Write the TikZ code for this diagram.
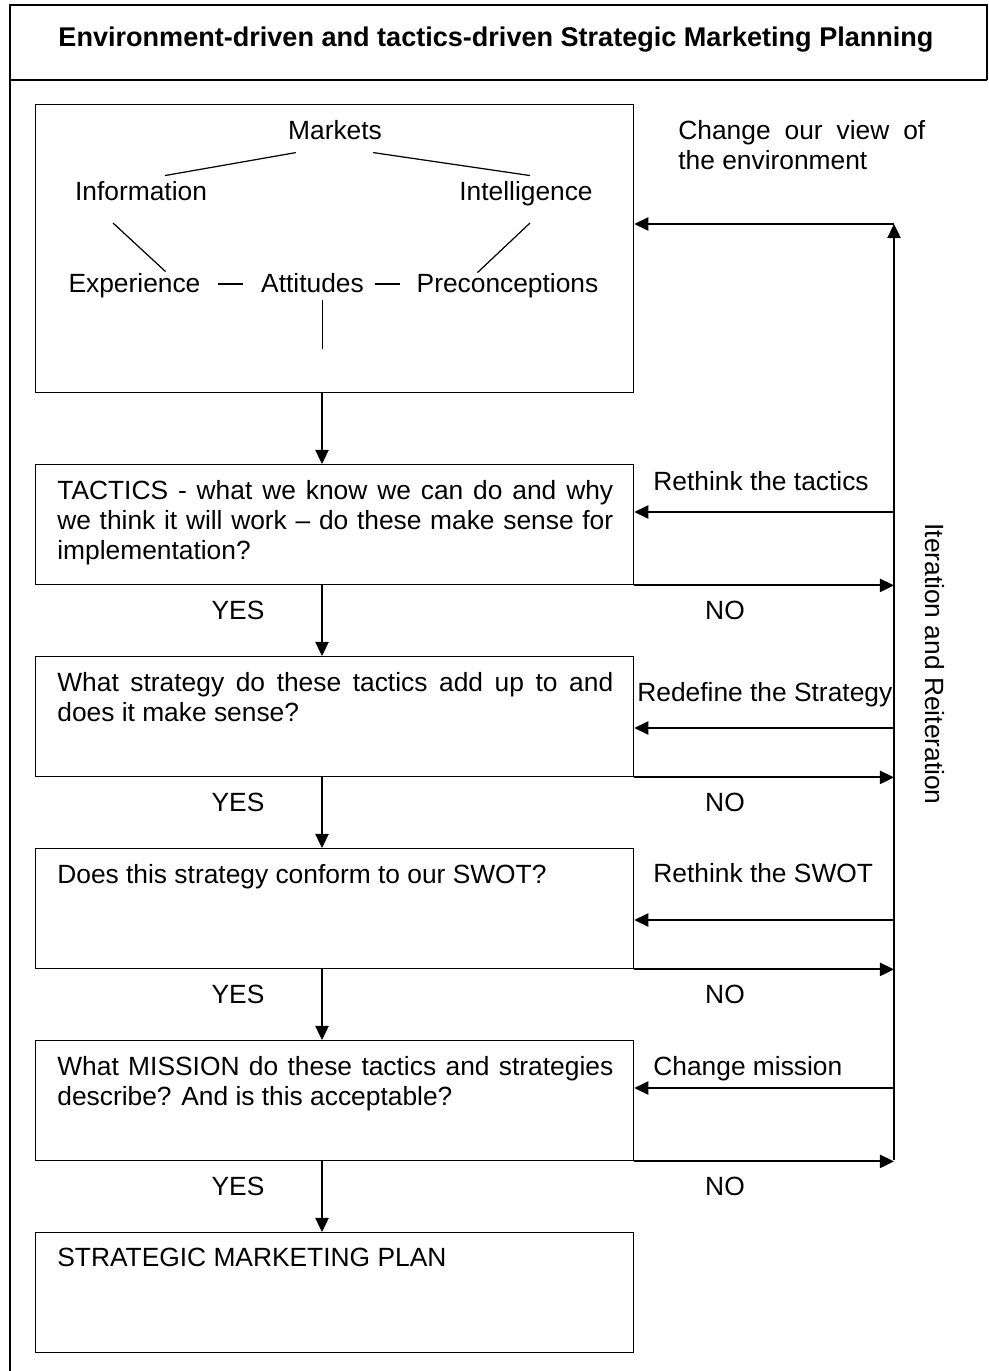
\documentclass[tikz,border=0pt]{standalone}
\usepackage{fontspec}
\setmainfont{Liberation Sans}
\usetikzlibrary{arrows.meta,calc}

\begin{document}
\hyphenpenalty=10000 \exhyphenpenalty=10000
\begin{tikzpicture}[x=0.02cm,y=-0.02cm,font=\fontsize{15}{17}\selectfont,
    box/.style={draw,line width=0.8pt,anchor=north west,minimum width=11.96cm,minimum height=2.4cm,inner sep=0pt},
    txt/.style={anchor=north west,inner sep=0pt,text width=11.12cm,align=justify},
    word/.style={anchor=base,inner sep=0pt},
    lbl/.style={anchor=base west,inner sep=0pt},
    flow/.style={line width=1.1pt,-{Triangle[length=8pt,width=7.5pt]}},
    link/.style={line width=0.7pt}]
\useasboundingbox (0,0) rectangle (989,1371);
% Frame and heading
\draw[line width=0.9pt] (10,1380) -- (10,5) -- (987,5) -- (987,80);
\draw[line width=0.9pt] (10,80) -- (987,80);
\node[word,font=\fontsize{15.4}{18}\selectfont\bfseries] (title) at (496,47) {Environment-driven and tactics-driven Strategic Marketing Planning};
% Boxes
\node[box,minimum height=5.76cm] (b1) at (35,104) {};
\node[box] (b2) at (35,464) {};
\node[box] (b3) at (35,656) {};
\node[box] (b4) at (35,848) {};
\node[box] (b5) at (35,1040) {};
\node[box] (b6) at (35,1232) {};
% Box texts
\node[txt] (t2) at ($(b2.north west)+(22,16)$) {TACTICS - what we know we can do and why\linebreak we think it will work -- do these make sense for\linebreak implementation?};
\node[txt] (t3) at ($(b3.north west)+(22,16)$) {What strategy do these tactics add up to and\linebreak does it make sense?};
\node[txt] (t4) at ($(b4.north west)+(22,16)$) {Does this strategy conform to our SWOT?};
\node[txt] (t5) at ($(b5.north west)+(22,16)$) {What MISSION do these tactics and strategies\linebreak describe? And is this acceptable?};
\node[txt] (t6) at ($(b6.north west)+(22,16)$) {STRATEGIC MARKETING PLAN};
% Environment words
\node[word] (mk) at (335,140) {Markets};
\node[word] (inf) at (141,201) {Information};
\node[word] (int) at (526,201) {Intelligence};
\node[word] (exp) at (134.5,293) {Experience};
\node[word] (att) at (312.5,293) {Attitudes};
\node[word] (pre) at (507.5,293) {Preconceptions};
\draw[link] ($(mk.south west)+(8,12)$) -- ($(inf.north)+(24,-6)$);
\draw[link] ($(mk.south east)+(-9,12)$) -- ($(int.north)+(4,-6)$);
\draw[link] ($(inf.base)+(-28,22)$) -- ($(exp.north)+(31,-2)$);
\draw[link] ($(int.base)+(4,22)$) -- ($(pre.north)+(-30,-1)$);
\draw[link] ($(exp.base east)+(17,-9)$) -- ($(att.base west)+(-18,-9)$);
\draw[link] ($(att.base east)+(11,-9)$) -- ($(pre.base west)+(-16,-9)$);
\draw[link] ($(att.base)+(10,7)$) -- ($(att.base)+(10,56)$);
% Main flow
\foreach \a/\b in {b1/b2,b2/b3,b3/b4,b4/b5,b5/b6}
    \draw[flow] ($(\a.south west)+(287,0)$) -- ($(\b.north west)+(287,0)$);
\foreach \yy [count=\i] in {619,811,1003,1195} {
    \node[word] (yes\i) at (238,\yy) {YES};
    \node[word] (no\i) at (725,\yy) {NO};
}
% Feedback loop
\coordinate (top) at (894,224);
\coordinate (bot) at (894,1160);
\coordinate (r2) at (894,512);
\coordinate (r3) at (894,728);
\coordinate (r4) at (894,920);
\coordinate (r5) at (894,1088);
\draw[flow] (bot) -- (top);
\draw[flow] (top) -- (top -| b1.east);
\foreach \i in {2,...,5} {
    \draw[flow] (r\i) -- (r\i -| b\i.east);
    \draw[flow] (b\i.south east) -- (b\i.south east -| top);
}
\node[anchor=north west,inner sep=0pt,text width=4.94cm,align=justify] (env) at (678,120) {Change our view of\linebreak the environment};
\node[lbl] (l2) at (653,490) {Rethink the tactics};
\node[lbl] (l3) at (637,701) {Redefine the Strategy};
\node[lbl] (l4) at (653,882) {Rethink the SWOT};
\node[lbl] (l5) at (653,1075) {Change mission};
\node[rotate=-90,inner sep=0pt] (iter) at (935,664) {Iteration and Reiteration};
\end{tikzpicture}
\end{document}
